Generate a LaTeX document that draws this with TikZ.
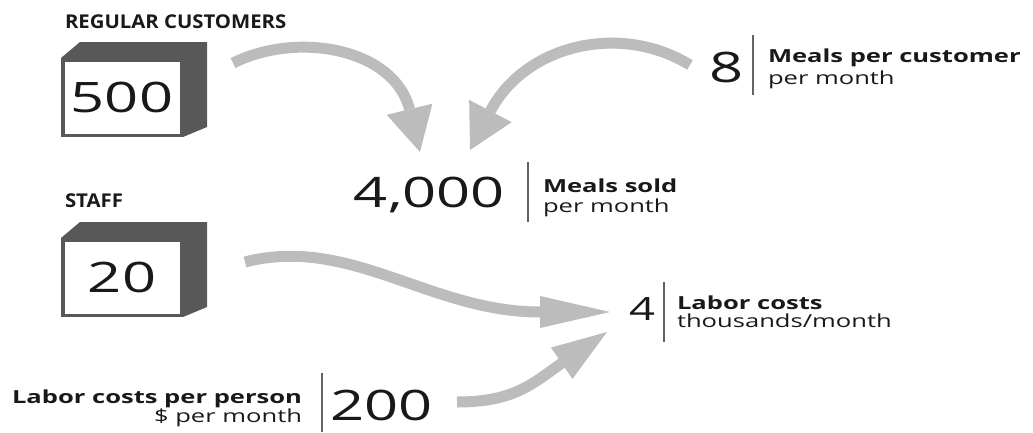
\documentclass[tikz,border=0pt]{standalone}
\usepackage{fontspec}
\setmainfont{Open Sans}[FakeStretch=1.42]
\newfontfamily\capsfont{Open Sans}[FakeStretch=1.07]
\usetikzlibrary{arrows.meta}
\definecolor{arrowgray}{RGB}{188,188,188}
\definecolor{boxdark}{RGB}{88,88,88}
\definecolor{ink}{RGB}{25,25,25}
\definecolor{sepgray}{RGB}{100,100,100}
\begin{document}
\begin{tikzpicture}[x=1pt,y=-1pt,
  every node/.style={inner sep=0pt, outer sep=0pt, text=ink},
  title/.style={font=\capsfont\bfseries\fontsize{19}{21}\selectfont, anchor=base west},
  bignum/.style={font=\fontsize{42}{44}\selectfont},
  labbold/.style={font=\bfseries\fontsize{18}{20}\selectfont, anchor=base west},
  labreg/.style={font=\fontsize{18}{20}\selectfont, anchor=base west},
  sep/.style={draw=sepgray, line width=1.4pt},
  flow/.style={draw=arrowgray, line width=11pt},
  boxside/.style={fill=boxdark},
  boxfront/.style={draw=boxdark, line width=3.5pt, fill=white, minimum width=118.5pt, minimum height=75.5pt, font=\fontsize{42}{44}\selectfont}]
\useasboundingbox (0,0) rectangle (1033,432);

% box 1
\fill[boxside] (61,58) -- (80,42) -- (207,42) -- (207,127) -- (183,137) -- (183,58) -- cycle;
\node[boxfront] (cust) at (122,97.5) {500};
\node[title] (custtitle) at (65,28) {REGULAR CUSTOMERS};

% box 2
\fill[boxside] (61,238) -- (80,222) -- (207,222) -- (207,307) -- (183,317) -- (183,238) -- cycle;
\node[boxfront] (staff) at (122,277.5) {20};
\node[title] (stafftitle) at (65,207) {STAFF};

% meals per customer
\node[bignum, anchor=base east] (eight) at (744,82) {8};
\draw[sep] (753,35) -- (753,95);
\node[labbold] (mpc1) at (768,62) {Meals per customer};
\node[labreg] (mpc2) at (768,84) {per month};

% meals sold
\node[bignum, anchor=base east] (meals) at (505,207) {4,000};
\draw[sep] (528,162) -- (528,222);
\node[labbold] (ms1) at (543,192) {Meals sold};
\node[labreg] (ms2) at (543,212) {per month};

% labor costs
\node[font=\fontsize{32}{34}\selectfont, anchor=base east] (labor) at (655,320) {4};
\draw[sep] (664,282) -- (664,342);
\node[labbold] (lc1) at (677,309) {Labor costs};
\node[labreg] (lc2) at (677,327) {thousands/month};

% labor cost per person
\node[labbold, anchor=base east] (lcp1) at (302,403) {Labor costs per person};
\node[labreg, anchor=base east] (lcp2) at (302,422) {\$ per month};
\draw[sep] (322,373) -- (322,432);
\node[bignum, anchor=base west] (perperson) at (330,420) {200};

% arrows
\coordinate (s1) at (233,63);
\coordinate (t1) at (420,152);
\coordinate (s2) at (690,65);
\coordinate (t2) at (470,150);
\coordinate (s3) at (245,262);
\coordinate (t3) at (610,312);
\coordinate (s4) at (457,402);
\coordinate (t4) at (607,332);
\draw[flow, -{Triangle[length=44pt,width=47pt,line width=0pt]}] (s1) .. controls (300,30) and (395,50) .. (t1);
\draw[flow, -{Triangle[length=44pt,width=48pt,line width=0pt]}] (s2) .. controls (620,22) and (525,45) .. (t2);
\draw[flow, -{Triangle[length=70pt,width=32pt,line width=0pt]}] (s3) .. controls (350,235) and (430,312) .. (t3);
\draw[flow, -{Triangle[length=55pt,width=38pt,line width=0pt]}] (s4) .. controls (515,402) and (533,383) .. (t4);
\end{tikzpicture}
\end{document}
